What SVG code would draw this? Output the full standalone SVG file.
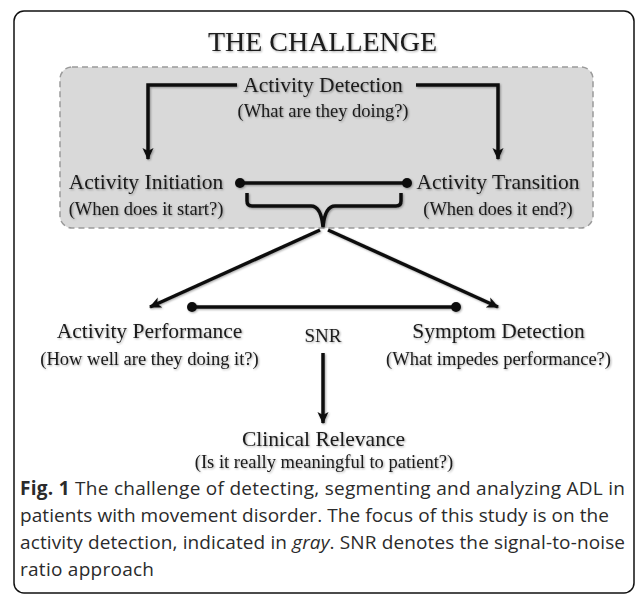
<svg xmlns="http://www.w3.org/2000/svg" width="635" height="594" viewBox="0 0 635 594">
<style>
.serif{font-family:"Liberation Serif","Times New Roman",serif;fill:#1a1a1a;text-anchor:middle}
.t1{font-size:21.5px}
.t2{font-size:18.5px}
.cap{font-family:"Open Sans","Liberation Sans",sans-serif;font-size:19px;fill:#2b2b2b}
.ln{fill:none;stroke:#111;stroke-width:3.5;stroke-linejoin:miter}
.arr{marker-end:url(#ah)}
.dot{fill:#111}
.sh{filter:url(#soft)}
</style>
<defs>
<marker id="ah" viewBox="0 0 12 12" markerWidth="12" markerHeight="12" markerUnits="userSpaceOnUse" refX="11" refY="6" orient="auto">
<path d="M0,0.5 L12,6 L0,11.5 L3,6 z" fill="#111"/>
</marker>
<filter id="soft" x="-5%" y="-5%" width="110%" height="110%">
<feGaussianBlur in="SourceAlpha" stdDeviation="1"/>
<feOffset dx="0.5" dy="0.8" result="b"/>
<feComponentTransfer><feFuncA type="linear" slope="0.35"/></feComponentTransfer>
<feMerge><feMergeNode/><feMergeNode in="SourceGraphic"/></feMerge>
</filter>
</defs>
<rect id="frame" x="14" y="11" width="620" height="582" rx="10" fill="#fff" stroke="#111" stroke-width="1.5"/>
<rect id="focus" x="60" y="67" width="533" height="161" rx="12" fill="#d9d9d9" stroke="#9a9a9a" stroke-width="1.5" stroke-dasharray="6,4"/>
<g class="sh">
<text class="serif" x="322.5" y="51" font-size="28" textLength="229" lengthAdjust="spacingAndGlyphs">THE CHALLENGE</text>
<g id="connectors">
<polyline class="ln arr" points="237,85 148,85 148,159"/>
<polyline class="ln arr" points="416,85 498,85 498,159"/>
<line class="ln" x1="240" y1="183" x2="407" y2="183"/>
<circle class="dot" cx="240" cy="183" r="5"/>
<circle class="dot" cx="407" cy="183" r="5"/>
<path class="ln" d="M247,193 V201 Q247,206 252,206 H311 Q321,206 323,227 Q325,206 335,206 H396 Q401,206 401,201 V193"/>
<line class="ln arr" x1="320" y1="230" x2="150" y2="307"/>
<line class="ln arr" x1="328" y1="230" x2="498" y2="307"/>
<line class="ln" x1="192" y1="307" x2="456" y2="307"/>
<circle class="dot" cx="192" cy="307" r="5"/>
<circle class="dot" cx="456" cy="307" r="5"/>
<line class="ln arr" x1="323" y1="353" x2="323" y2="423"/>
</g>
<g id="detection">
<text class="serif t1" x="323" y="92">Activity Detection</text>
<text class="serif t2" x="323" y="117">(What are they doing?)</text>
</g>
<g id="initiation">
<text class="serif t1" x="146" y="189">Activity Initiation</text>
<text class="serif t2" x="146" y="215">(When does it start?)</text>
</g>
<g id="transition">
<text class="serif t1" x="498" y="189">Activity Transition</text>
<text class="serif t2" x="498" y="215">(When does it end?)</text>
</g>
<g id="performance">
<text class="serif t1" x="149.5" y="338">Activity Performance</text>
<text class="serif t2" x="149.5" y="365">(How well are they doing it?)</text>
</g>
<g id="snr">
<text class="serif" x="323" y="342" font-size="19">SNR</text>
</g>
<g id="symptom">
<text class="serif t1" x="498.5" y="338">Symptom Detection</text>
<text class="serif t2" x="498.5" y="365">(What impedes performance?)</text>
</g>
<g id="clinical">
<text class="serif t1" x="323.5" y="446">Clinical Relevance</text>
<text class="serif t2" x="324" y="468">(Is it really meaningful to patient?)</text>
</g>
</g>
<g id="caption">
<text class="cap" x="20" y="495" textLength="605"><tspan font-weight="bold">Fig. 1</tspan> The challenge of detecting, segmenting and analyzing ADL in</text>
<text class="cap" x="20" y="522" textLength="589">patients with movement disorder. The focus of this study is on the</text>
<text class="cap" x="20" y="549" textLength="605">activity detection, indicated in <tspan font-style="italic">gray</tspan>. SNR denotes the signal-to-noise</text>
<text class="cap" x="20" y="576" textLength="134">ratio approach</text>
</g>
</svg>
